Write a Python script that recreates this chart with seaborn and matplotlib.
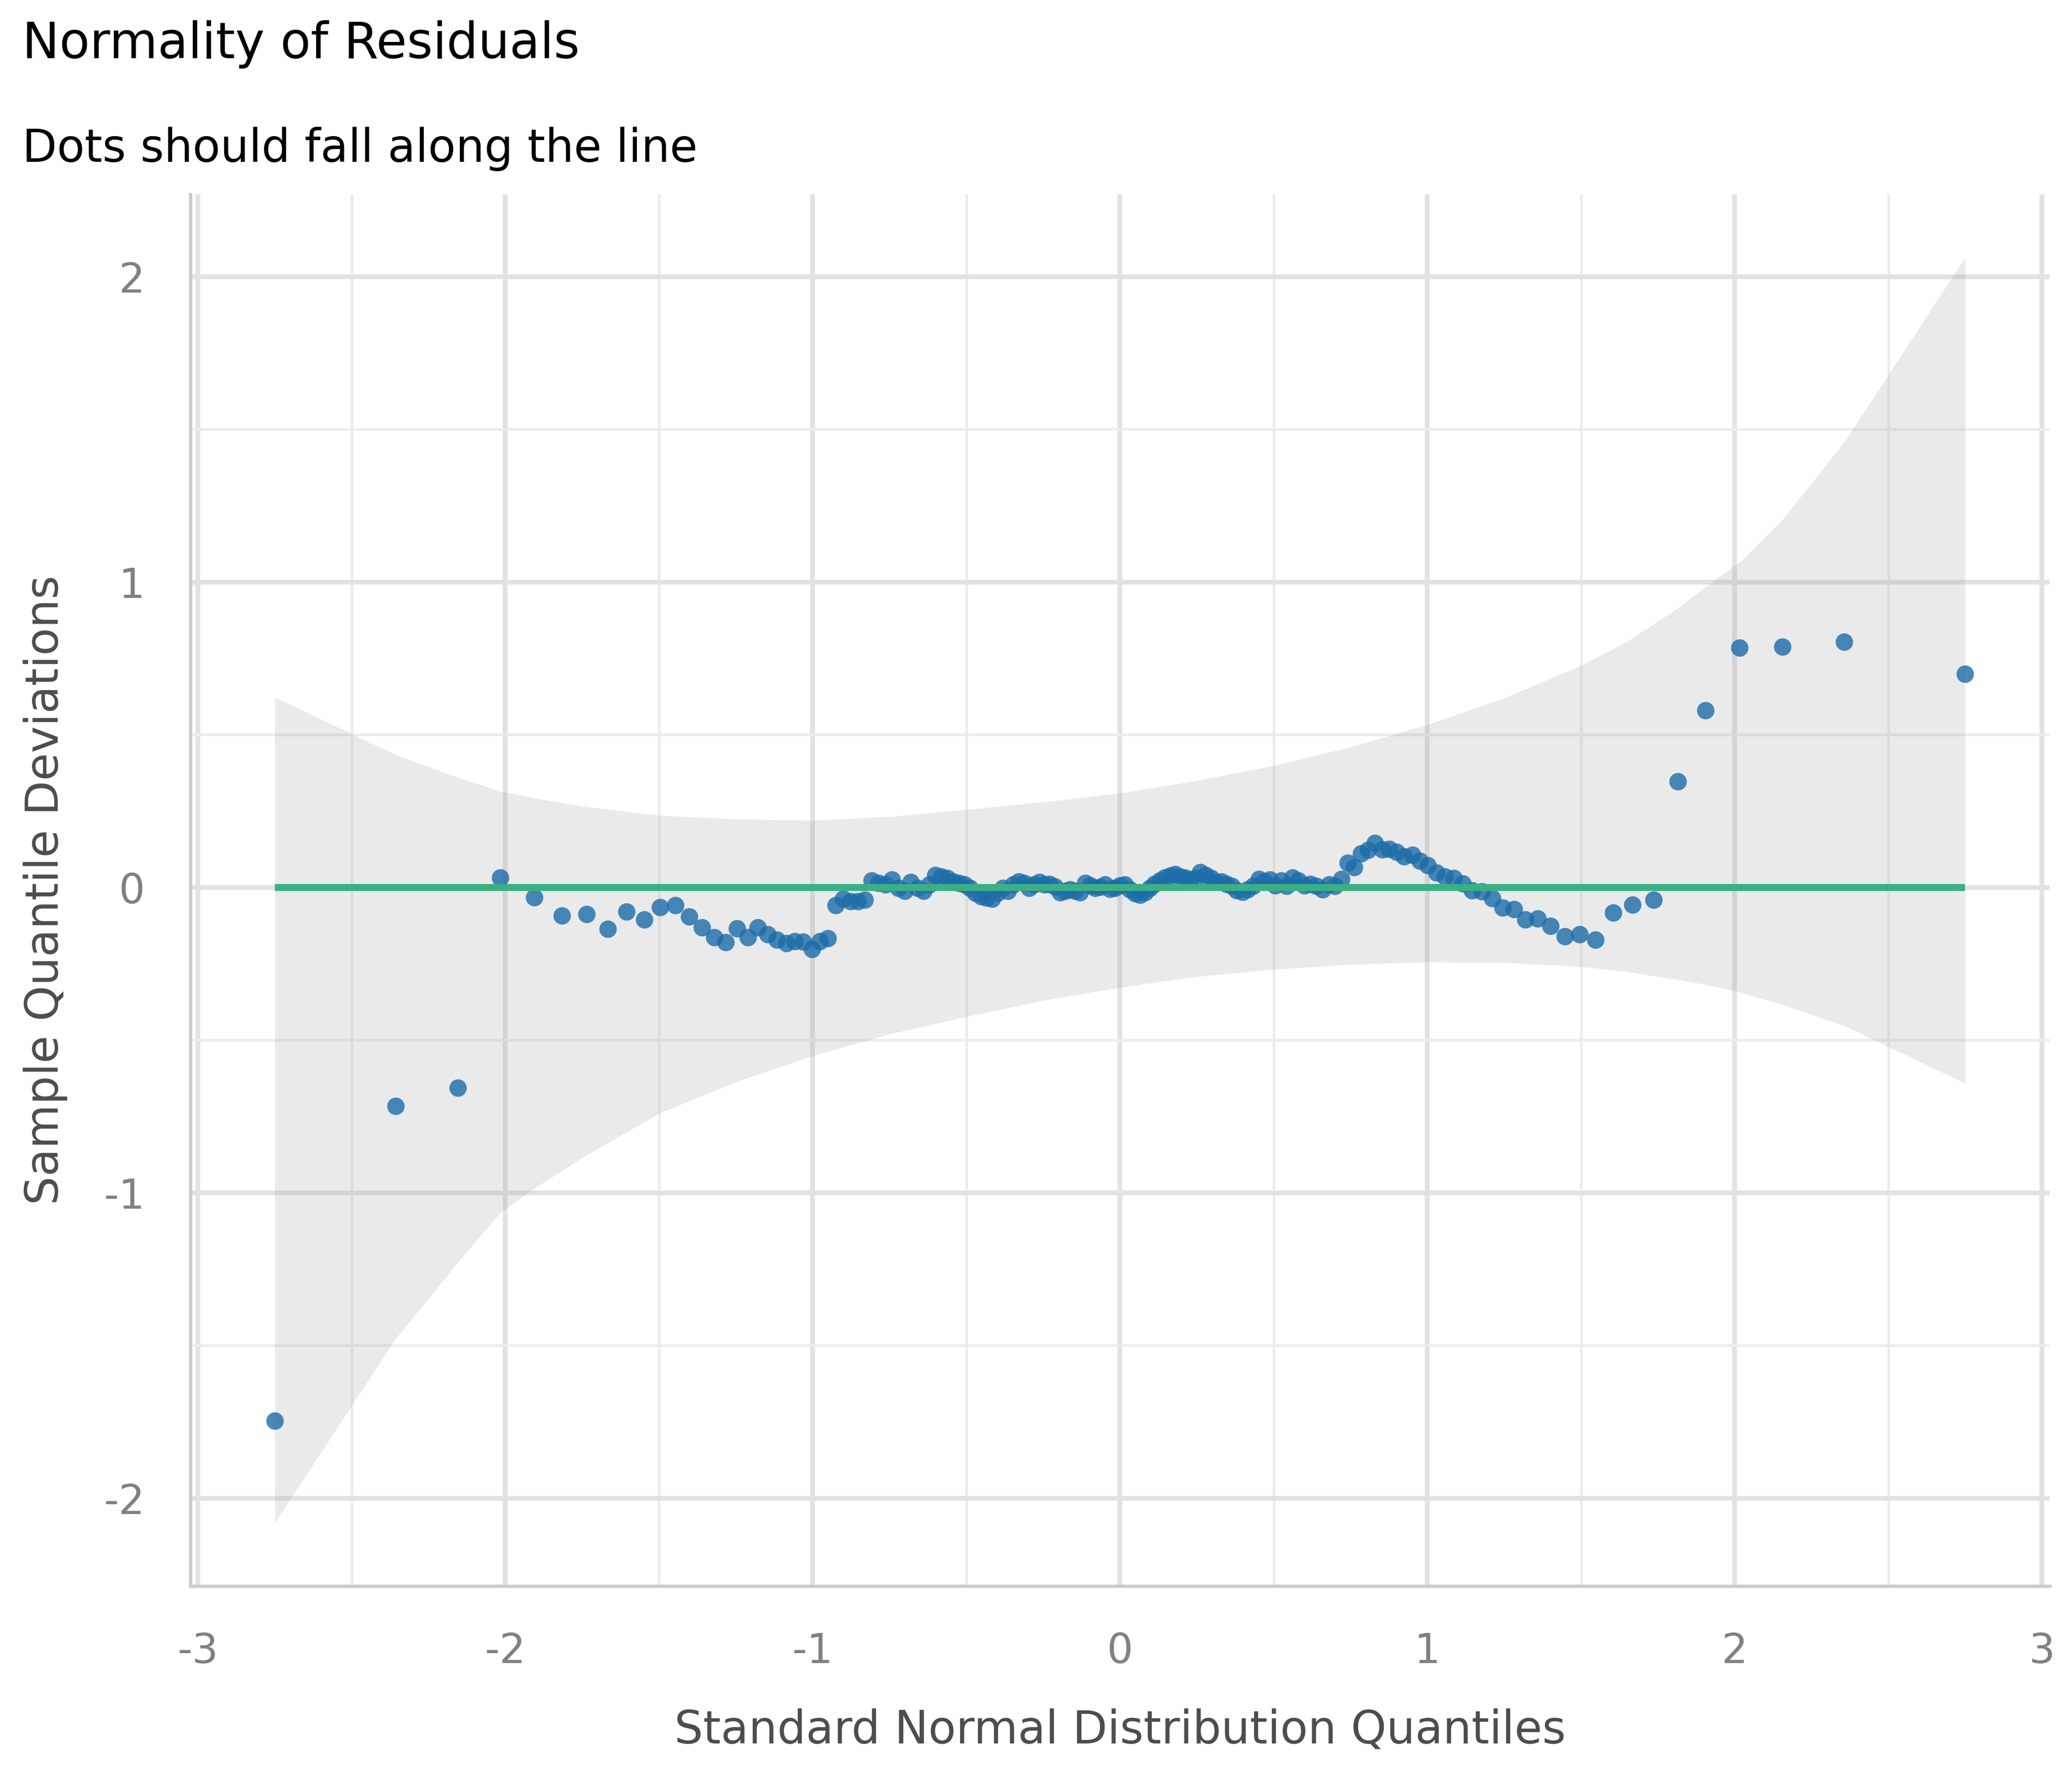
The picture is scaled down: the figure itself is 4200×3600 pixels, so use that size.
import matplotlib
matplotlib.use("Agg")
import matplotlib.pyplot as plt
from matplotlib.ticker import MultipleLocator
import seaborn as sns

# ---------------- data ----------------
theoretical_q = [
    -2.750, -2.357, -2.155, -2.016, -1.905, -1.815, -1.736, -1.667, -1.605, -1.548,
    -1.496, -1.447, -1.401, -1.359, -1.319, -1.282, -1.246, -1.211, -1.178, -1.146,
    -1.116, -1.086, -1.058, -1.030, -1.002, -0.976, -0.951, -0.925, -0.901, -0.877,
    -0.853, -0.830, -0.807, -0.785, -0.763, -0.742, -0.721, -0.700, -0.680, -0.659,
    -0.639, -0.619, -0.600, -0.581, -0.562, -0.543, -0.524, -0.506, -0.488, -0.470,
    -0.452, -0.434, -0.416, -0.399, -0.381, -0.364, -0.347, -0.330, -0.312, -0.296,
    -0.279, -0.262, -0.245, -0.229, -0.212, -0.195, -0.179, -0.163, -0.146, -0.130,
    -0.113, -0.097, -0.081, -0.065, -0.049, -0.032, -0.016,
    0.000,
    0.016, 0.032, 0.049, 0.065, 0.081, 0.097, 0.113, 0.130, 0.146, 0.163,
    0.179, 0.195, 0.212, 0.229, 0.245, 0.262, 0.279, 0.296, 0.312, 0.330,
    0.347, 0.364, 0.381, 0.399, 0.416, 0.434, 0.452, 0.470, 0.488, 0.506,
    0.524, 0.543, 0.562, 0.581, 0.600, 0.619, 0.639, 0.659, 0.680, 0.700,
    0.721, 0.742, 0.763, 0.785, 0.807, 0.830, 0.853, 0.877, 0.901, 0.925,
    0.951, 0.976, 1.002, 1.030, 1.058, 1.086, 1.116, 1.146, 1.178, 1.211,
    1.246, 1.282, 1.319, 1.359, 1.401, 1.447, 1.496, 1.548, 1.605, 1.667,
    1.736, 1.815, 1.905, 2.016, 2.156, 2.357, 2.750,
]

deviation = [
    -1.746, -0.716, -0.656, 0.032, -0.033, -0.092, -0.087, -0.136, -0.080, -0.105,
    -0.065, -0.059, -0.095, -0.131, -0.164, -0.179, -0.135, -0.164, -0.131, -0.154,
    -0.171, -0.183, -0.177, -0.178, -0.202, -0.176, -0.167, -0.058, -0.038, -0.046,
    -0.045, -0.040, 0.023, 0.015, 0.009, 0.025, -0.002, -0.012, 0.017, -0.002,
    -0.012, 0.009, 0.041, 0.035, 0.031, 0.020, 0.015, 0.009, -0.002, -0.018,
    -0.029, -0.034, -0.037, -0.018, -0.002, -0.012, 0.009, 0.020, 0.015, -0.002,
    0.009, 0.017, 0.009, 0.012, 0.003, -0.017, -0.012, -0.007, -0.012, -0.017,
    0.015, 0.007, -0.002, 0.001, 0.009, -0.005, -0.002, 0.007, 0.009, -0.007,
    -0.020, -0.025, -0.017, -0.002, 0.012, 0.023, 0.033, 0.039, 0.044, 0.036,
    0.033, 0.025, 0.031, 0.050, 0.041, 0.031, 0.017, 0.020, 0.012, 0.004,
    -0.010, -0.015, -0.007, 0.004, 0.028, 0.020, 0.025, 0.006, 0.023, 0.004,
    0.033, 0.023, 0.006, 0.012, 0.004, -0.007, 0.009, 0.004, 0.028, 0.080,
    0.066, 0.111, 0.122, 0.145, 0.125, 0.126, 0.117, 0.102, 0.107, 0.087,
    0.072, 0.049, 0.036, 0.031, 0.013, -0.009, -0.013, -0.036, -0.067, -0.071,
    -0.105, -0.102, -0.126, -0.160, -0.153, -0.172, -0.083, -0.056, -0.040, 0.347,
    0.580, 0.785, 0.789, 0.805, 0.700,
]

band_x = [-2.750, -2.357, -2.155, -2.016, -1.905, -1.750, -1.500, -1.250, -1.000,
          -0.750, -0.500, -0.250, 0.000, 0.250, 0.500, 0.750, 1.000, 1.250, 1.500,
          1.650, 1.815, 1.905, 2.016, 2.156, 2.357, 2.750]
band_upper = [0.623, 0.435, 0.360, 0.315, 0.293, 0.266, 0.236, 0.224, 0.220,
              0.232, 0.255, 0.280, 0.309, 0.350, 0.399, 0.460, 0.533, 0.620, 0.727,
              0.805, 0.915, 0.985, 1.065, 1.205, 1.459, 2.063]
band_lower = [-2.081, -1.478, -1.229, -1.065, -0.985, -0.885, -0.740, -0.637, -0.551,
              -0.480, -0.423, -0.370, -0.327, -0.292, -0.268, -0.252, -0.244, -0.246, -0.259,
              -0.276, -0.302, -0.318, -0.342, -0.384, -0.453, -0.641]

x_ticks = [-3, -2, -1, 0, 1, 2, 3]
y_ticks = [-2, -1, 0, 1, 2]

title = "Normality of Residuals"
subtitle = "Dots should fall along the line"
x_label = "Standard Normal Distribution Quantiles"
y_label = "Sample Quantile Deviations"

# ---------------- style ----------------
sns.set_style("white")
plt.rcParams["font.family"] = ["DejaVu Sans"]
plt.rcParams["axes.unicode_minus"] = False

dot_color = "#1b6ca8"
line_color = "#3aaf85"

fig = plt.figure(figsize=(14, 12), dpi=300)
ax = fig.add_axes([0.0918, 0.1069, 0.8974, 0.7837])

# confidence band
ax.fill_between(band_x, band_lower, band_upper, color="#999999", alpha=0.2,
                linewidth=0, zorder=1)

# points
sns.scatterplot(x=theoretical_q, y=deviation, color=dot_color, alpha=0.8, s=72,
                linewidth=0, ax=ax, zorder=2)

# reference line over data range
ax.plot([min(theoretical_q), max(theoretical_q)], [0, 0], color=line_color,
        linewidth=3.4, solid_capstyle="butt", zorder=3)

ax.set_xlim(-3.025, 3.025)
ax.set_ylim(-2.288, 2.270)
ax.set_xticks(x_ticks)
ax.set_yticks(y_ticks)
ax.set_xticklabels([str(t) for t in x_ticks])
ax.set_yticklabels([str(t) for t in y_ticks])
ax.xaxis.set_minor_locator(MultipleLocator(0.5))
ax.yaxis.set_minor_locator(MultipleLocator(0.5))

ax.set_axisbelow(True)
ax.grid(which="major", color="#e2e2e2", linewidth=2.3)
ax.grid(which="minor", color="#ececec", linewidth=1.3)

ax.tick_params(which="both", length=0)
ax.tick_params(axis="both", which="major", labelsize=20, labelcolor="#808080", pad=22)

for side in ["top", "right"]:
    ax.spines[side].set_visible(False)
for side in ["left", "bottom"]:
    ax.spines[side].set_color("#cccccc")
    ax.spines[side].set_linewidth(1.6)

ax.set_xlabel(x_label, fontsize=22, color="#4d4d4d")
ax.set_ylabel(y_label, fontsize=22, color="#4d4d4d")
ax.xaxis.set_label_coords(0.5, -0.0875)
ax.yaxis.set_label_coords(-0.066, 0.5)

fig.text(0.0108, 0.9672, title, fontsize=24.2, color="black", va="baseline", ha="left")
fig.text(0.0108, 0.9089, subtitle, fontsize=22, color="black", va="baseline", ha="left")

fig.savefig("out.png", dpi=300, facecolor="white")
